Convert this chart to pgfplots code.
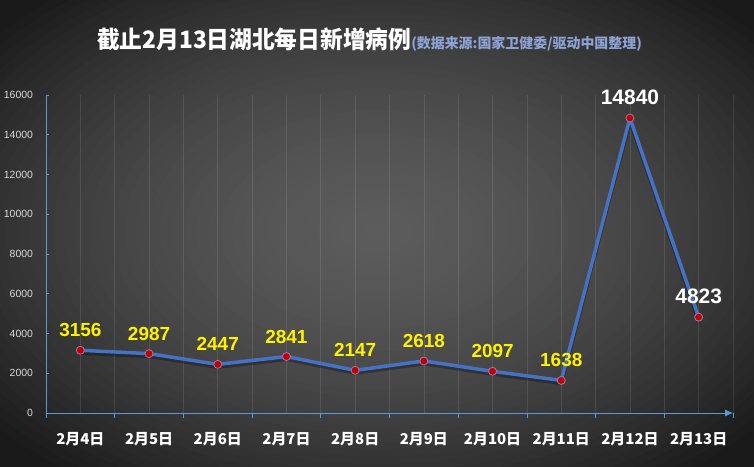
\documentclass[border=0pt]{standalone}
\usepackage{fontspec}
\setmainfont{Liberation Sans}
\newfontfamily\cjk{Noto Sans CJK SC}
\usepackage{pgfplots}
\pgfplotsset{compat=1.18}
\usepackage{pgfplotstable}
\usetikzlibrary{arrows.meta}

\definecolor{lineblue}{HTML}{4472C4}
\definecolor{axisblue}{HTML}{5B9BD5}
\definecolor{dotred}{HTML}{C00000}
\definecolor{dotrim}{HTML}{A07AB0}
\definecolor{subblue}{HTML}{8EA2D4}
\definecolor{ticktext}{HTML}{D9D9D9}
\definecolor{bgin}{HTML}{5C5C5C}
\definecolor{bgout}{HTML}{1A1A1A}

% daily new cases, Hubei
\pgfplotstableread{
x y
0 3156
1 2987
2 2447
3 2841
4 2147
5 2618
6 2097
7 1638
8 14840
9 4823
}\hubei

\begin{document}
\begin{tikzpicture}
% vignette background, drawn as stepped ellipses
\fill[bgout] (0,0) rectangle (754bp,467bp);
\begin{scope}
  \clip (0,0) rectangle (754bp,467bp);
  \foreach \i in {0,...,45} {
    \pgfmathsetmacro\r{1.35*(1-\i/45)}
    \pgfmathsetmacro\v{max(26, 92-15*\r-30*\r*\r)}
    \pgfmathsetmacro\p{(\v-26)/66*100}
    \fill[bgin!\p!bgout] (377bp,236bp) ellipse [x radius={400bp*\r+0.5bp}, y radius={250bp*\r+0.5bp}];
  }
\end{scope}

\node[anchor=base west, inner sep=0, text=white] at (97bp,418bp)
  {\scalebox{0.95}[1]{\cjk\bfseries\fontsize{24}{26}\selectfont 截止2月13日湖北每日新增病例}%
   {\color{subblue}\cjk\bfseries\fontsize{14}{16}\selectfont (数据来源:国家卫健委/驱动中国整理)}};

\begin{axis}[
    at={(46bp,54bp)}, anchor=south west,
    scale only axis, width=687bp, height=318bp,
    xmin=-0.5, xmax=9.5, ymin=0, ymax=16000,
    clip=false,
    axis x line=bottom, axis y line=left,
    axis line style={color=axisblue, line width=0.8bp},
    x axis line style={-{Latex[length=8bp,width=7bp]}},
    y axis line style={-},
    xtick={0,...,9},
    xticklabels={2月4日,2月5日,2月6日,2月7日,2月8日,2月9日,2月10日,2月11日,2月12日,2月13日},
    minor xtick={-0.5,0.5,...,9.5},
    xmajorgrids, xminorgrids,
    grid style={white, opacity=0.1, line width=0.7bp},
    major x tick style={draw=none},
    minor x tick style={color=axisblue, line width=0.8bp},
    xtick align=outside, minor tick length=5bp,
    ytick={0,2000,...,16000},
    ytick align=inside, major tick length=3bp,
    ytick style={color=axisblue, line width=0.8bp},
    scaled y ticks=false,
    /pgf/number format/1000 sep={},
    /pgf/number format/assume math mode=true,
    yticklabel style={font=\fontsize{10.5}{12}\selectfont, text=ticktext, anchor=east, xshift=-9.5bp},
    xticklabel style={font=\cjk\bfseries\fontsize{15}{16}\selectfont, text=white, anchor=center, yshift=-23bp},
]
% soft shadow under the line
\addplot[color=black, opacity=0.3, line width=4bp, line join=round,
    transform canvas={yshift=-2.5bp}]
    table[x=x, y=y] {\hubei};
\addplot[color=lineblue, line width=3.5bp, line join=round,
    mark=*, mark size=4bp,
    mark options={fill=dotred, draw=dotrim, line width=0.8bp}]
    table[x=x, y=y] {\hubei};
\addplot[draw=none, mark=none, restrict x to domain=0:7,
    nodes near coords,
    every node near coord/.append style={anchor=center, yshift=20bp, text=yellow,
      font=\bfseries\fontsize{19}{20}\selectfont}]
    table[x=x, y=y] {\hubei};
\addplot[draw=none, mark=none, restrict x to domain=8:9,
    nodes near coords,
    every node near coord/.append style={anchor=center, yshift=21bp, text=white,
      font=\bfseries\fontsize{21}{22}\selectfont}]
    table[x=x, y=y] {\hubei};
\end{axis}

\pgfresetboundingbox
\useasboundingbox (0,0) rectangle (754bp,467bp);
\end{tikzpicture}
\end{document}
